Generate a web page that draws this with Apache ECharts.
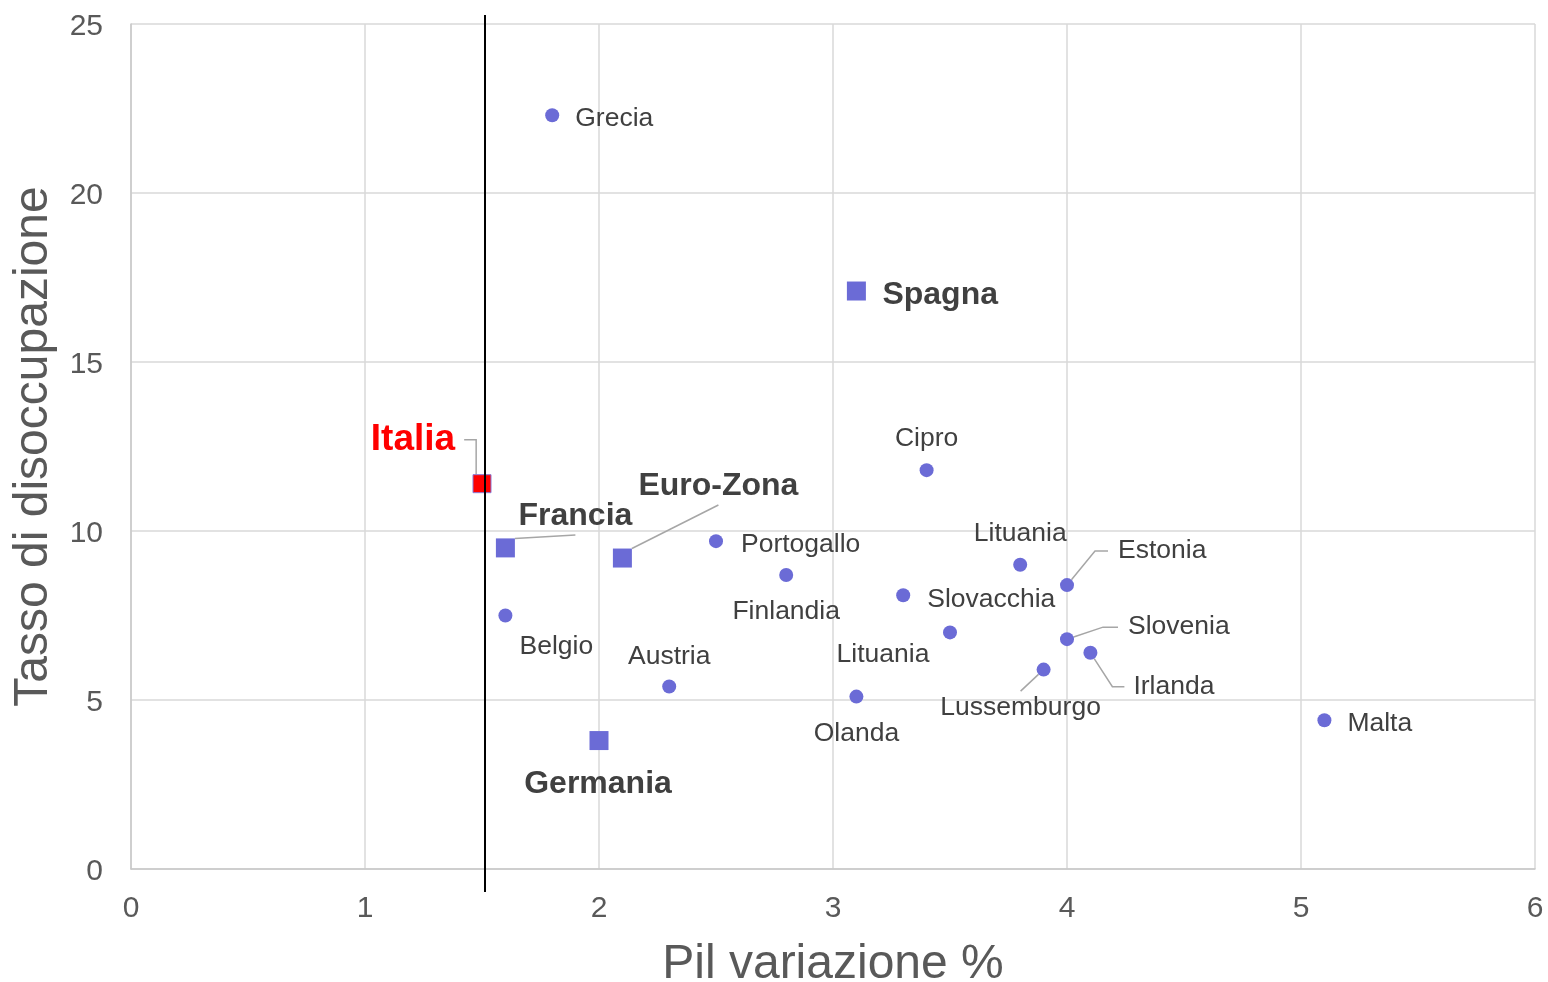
<!DOCTYPE html>
<html>
<head>
<meta charset="utf-8">
<script src="https://cdn.jsdelivr.net/npm/echarts@6/dist/echarts.min.js"></script>
<style>
html,body{margin:0;padding:0;background:#fff;}
#chart{width:1548px;height:982px;}
</style>
</head>
<body>
<div id="chart"></div>
<script>
// ---- data ----
const paesi = ['Grecia','Portogallo','Finlandia','Cipro','Lituania','Slovacchia','Lituania','Estonia','Slovenia','Irlanda','Lussemburgo','Olanda','Austria','Belgio','Malta'];
const pilPaesi = [1.8, 2.5, 2.8, 3.4, 3.8, 3.3, 3.5, 4.0, 4.0, 4.1, 3.9, 3.1, 2.3, 1.6, 5.1];
const disoccPaesi = [22.3, 9.7, 8.7, 11.8, 9.0, 8.1, 7.0, 8.4, 6.8, 6.4, 5.9, 5.1, 5.4, 7.5, 4.4];

const principali = ['Spagna','Euro-Zona','Francia','Germania'];
const pilPrincipali = [3.1, 2.1, 1.6, 2.0];
const disoccPrincipali = [17.1, 9.2, 9.5, 3.8];

const italia = ['Italia'];
const pilItalia = [1.5];
const disoccItalia = [11.4];

const sogliaPil = 1.51;
const xTicks = [0, 1, 2, 3, 4, 5, 6];
const yTicks = [0, 5, 10, 15, 20, 25];

// ---- label placement (style) ----
// [align, dx, dy, leader side, gap, horizontal segment, side padding]
const labelPlace = {
  'Grecia': ['left', 23, 3],
  'Portogallo': ['left', 25, 4],
  'Finlandia': ['center', 0, 37],
  'Cipro': ['center', 0, -31],
  'Lituania#4': ['center', 0, -31],
  'Slovacchia': ['left', 24, 4],
  'Lituania#6': ['center', -67, 22],
  'Estonia': ['left', 51, -34, 'left', 10, 13, 0],
  'Slovenia': ['left', 61, -12, 'left', 10, 15, 0],
  'Irlanda': ['left', 43, 34, 'left', 9, 12, 0],
  'Lussemburgo': ['center', -23, 42, 'top', 7, 0, 0],
  'Olanda': ['center', 0, 37],
  'Austria': ['center', 0, -30],
  'Belgio': ['center', 51, 31],
  'Malta': ['left', 23, 3],
  'Spagna': ['left', 26, 4],
  'Euro-Zona': ['center', 96, -74, 'bottom', 5, 0, 140],
  'Francia': ['center', 70, -34, 'bottom', 5, 0, 110],
  'Germania': ['center', -1, 44],
  'Italia': ['center', -69, -44, 'right', 9, 12, 0]
};

const markerColor = '#6b6bd6';
const leaderStyle = { color: '#a6a6a6', width: 1.5 };
const seriesNames = [paesi, principali, italia];

function placeOf(seriesIndex, dataIndex) {
  const n = seriesNames[seriesIndex][dataIndex];
  return labelPlace[n + '#' + dataIndex] || labelPlace[n];
}

// padding [top, right, bottom, left] used to shape where the leader line attaches
function paddingOf(p) {
  const pad = [0, 0, 0, 0];
  if (!p[3]) return pad;
  const gap = p[4], side = p[6] || 0;
  if (p[3] === 'right') { pad[1] = gap; }
  else if (p[3] === 'left') { pad[3] = gap; }
  else if (p[3] === 'bottom') { pad[2] = gap; pad[1] = side; pad[3] = side; }
  else if (p[3] === 'top') { pad[0] = gap; pad[1] = side; pad[3] = side; }
  return pad;
}

function buildItems(names, xs, ys, seriesIndex) {
  return names.map((n, i) => {
    const p = placeOf(seriesIndex, i);
    const item = {
      name: n,
      value: [xs[i], ys[i]],
      label: { align: p[0] }
    };
    if (p[3]) {
      item.label.padding = paddingOf(p);
      item.label.backgroundColor = 'rgba(255,255,255,0)';
      item.labelLine = { show: true, length2: p[5], lineStyle: leaderStyle };
    }
    return item;
  });
}

function layoutLabel(params) {
  const p = placeOf(params.seriesIndex, params.dataIndex);
  if (!p) return {};
  const pad = paddingOf(p);
  let dx = p[1], dy = p[2];
  if (p[0] === 'left') dx -= pad[3];
  else dx -= (pad[3] - pad[1]) / 2;
  dy -= (pad[0] - pad[2]) / 2;
  return { dx: dx, dy: dy };
}

const chart = echarts.init(document.getElementById('chart'));
const axisTextColor = '#595959';

chart.setOption({
  animation: false,
  backgroundColor: '#ffffff',
  grid: { left: 131, right: 13, top: 24, bottom: 113, containLabel: false, outerBoundsMode: 'none' },
  xAxis: {
    type: 'value', min: xTicks[0], max: xTicks[xTicks.length - 1], interval: 1,
    name: 'Pil variazione %', nameLocation: 'middle', nameGap: 72,
    nameTextStyle: { fontFamily: 'Liberation Sans', fontSize: 48, color: axisTextColor },
    axisLine: { show: true, lineStyle: { color: '#c8c8c8', width: 1.5 } },
    axisTick: { show: false },
    axisLabel: { fontFamily: 'Liberation Sans', fontSize: 30, color: axisTextColor, margin: 25 },
    splitLine: { show: true, lineStyle: { color: '#d9d9d9', width: 1.5 } }
  },
  yAxis: {
    type: 'value', min: yTicks[0], max: yTicks[yTicks.length - 1], interval: 5,
    name: 'Tasso di disoccupazione', nameLocation: 'middle', nameGap: 73,
    nameTextStyle: { fontFamily: 'Liberation Sans', fontSize: 48, color: axisTextColor },
    axisLine: { show: true, lineStyle: { color: '#c8c8c8', width: 1.5 } },
    axisTick: { show: false },
    axisLabel: {
      fontFamily: 'Liberation Sans', fontSize: 30, color: axisTextColor, margin: 28,
      formatter: '{v|{value}}',
      rich: { v: { fontFamily: 'Liberation Sans', fontSize: 30, color: axisTextColor, padding: [6, 0, 0, 0] } }
    },
    splitLine: { show: true, lineStyle: { color: '#d9d9d9', width: 1.5 } }
  },
  series: [
    {
      type: 'scatter',
      symbol: 'circle',
      symbolSize: 14,
      itemStyle: { color: markerColor, opacity: 1 },
      label: {
        show: true, position: 'inside', formatter: '{b}', verticalAlign: 'middle',
        fontFamily: 'Liberation Sans', fontSize: 26.5, color: '#404040'
      },
      labelLayout: layoutLabel,
      data: buildItems(paesi, pilPaesi, disoccPaesi, 0),
      z: 3
    },
    {
      type: 'scatter',
      symbol: 'rect',
      symbolSize: 19,
      itemStyle: { color: markerColor, opacity: 1 },
      label: {
        show: true, position: 'inside', formatter: '{b}', verticalAlign: 'middle',
        fontFamily: 'Liberation Sans', fontSize: 32, fontWeight: 'bold', color: '#404040'
      },
      labelLayout: layoutLabel,
      data: buildItems(principali, pilPrincipali, disoccPrincipali, 1),
      z: 3
    },
    {
      type: 'scatter',
      symbol: 'rect',
      symbolSize: 18,
      clip: false,
      itemStyle: { color: '#ff0000', borderColor: '#8a7ad6', borderWidth: 1, opacity: 1 },
      label: {
        show: true, position: 'inside', formatter: '{b}', verticalAlign: 'middle',
        fontFamily: 'Liberation Sans', fontSize: 37, fontWeight: 'bold', color: '#ff0000'
      },
      labelLayout: layoutLabel,
      data: buildItems(italia, pilItalia, disoccItalia, 2),
      markLine: {
        silent: true,
        symbol: 'none',
        label: { show: false },
        lineStyle: { color: '#000000', width: 2, type: 'solid', opacity: 1 },
        emphasis: { disabled: true },
        data: [[{ coord: [sogliaPil, yTicks[0]], y: 892 }, { coord: [sogliaPil, yTicks[yTicks.length - 1]], y: 15 }]]
      },
      z: 3
    }
  ]
});
</script>
</body>
</html>
